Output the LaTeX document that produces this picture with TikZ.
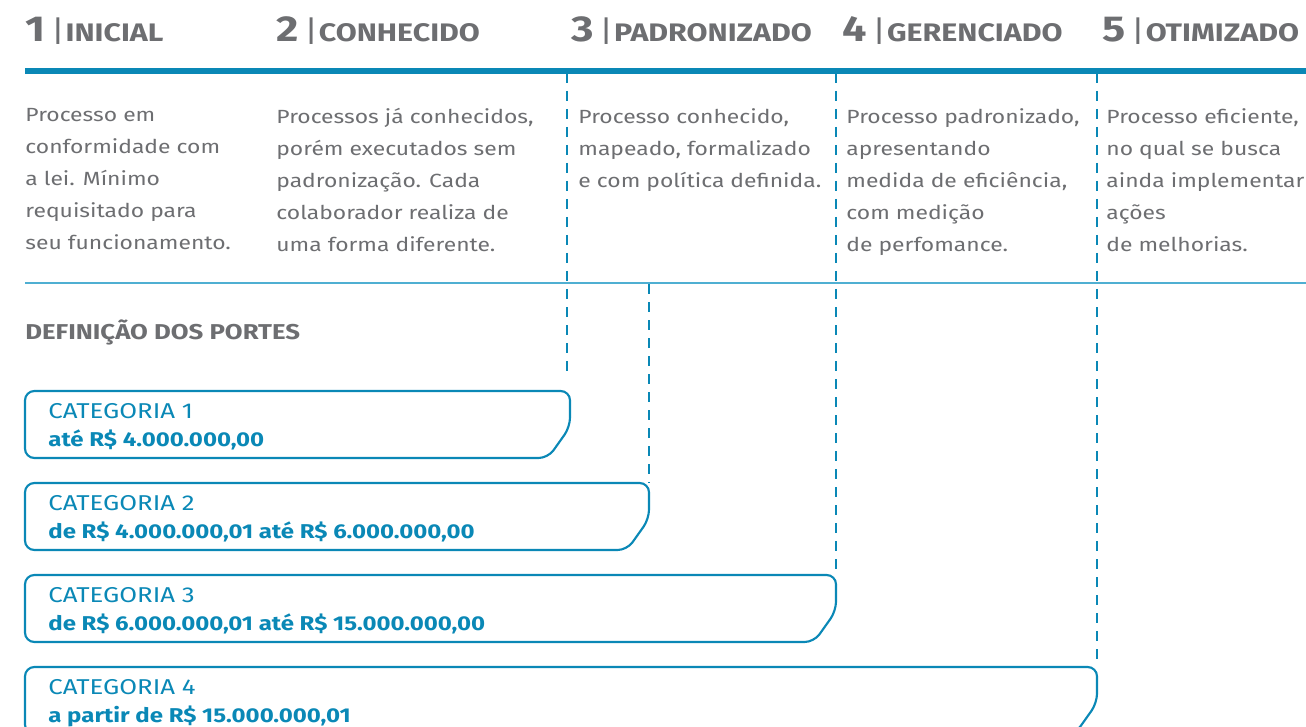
\documentclass[tikz,border=0pt]{standalone}
\usepackage{fontspec}
\setmainfont{Fira Sans}[FakeStretch=1.2]
\usetikzlibrary{positioning}
\definecolor{cinza}{HTML}{6D6E71}
\definecolor{azul}{HTML}{0A88B6}
\definecolor{azulclaro}{HTML}{4FAFD2}

\begin{document}
\begin{tikzpicture}[x=0.75pt,y=-0.75pt,semithick]
		\tikzstyle{titulo}=[anchor=base west,inner sep=0pt,text=cinza,font=\bfseries\fontsize{19}{22}\selectfont]
		\tikzstyle{desc}=[anchor=north west,inner sep=0pt,align=left,text=cinza,font=\fontsize{14.3}{24}\selectfont]
		\tikzstyle{cat}=[anchor=base west,inner sep=0pt,text=azul,font=\fontsize{16.1}{18}\selectfont]
		\tikzstyle{valor}=[cat,font=\bfseries\fontsize{15}{18}\selectfont]
		\tikzstyle{caixa}=[draw=azul,line width=1.6pt,rounded corners=7pt]
		\tikzstyle{guia}=[draw=azul,line width=1.9pt,dash pattern=on 7.5pt off 6pt]
		\newcommand{\num}[1]{{\fontsize{27}{28}\selectfont #1}\hspace{4pt}{\mdseries\fontsize{22}{24}\selectfont |}\hspace{0.5pt}}
		
		\clip (0,0) rectangle (1306,727);
		
		% niveis
		\node[titulo] (n1) at (25,42) {\num{1}INICIAL};
		\node[titulo] (n2) at (276,42) {\num{2}CONHECIDO};
		\node[titulo] (n3) at (571,42) {\num{3}PADRONIZADO};
		\node[titulo] (n4) at (842,42) {\num{4}GERENCIADO};
		\node[titulo] (n5) at (1102,42) {\num{5}OTIMIZADO};
		
		\coordinate (l0) at (25,71);
		\coordinate (l1) at (1306,71);
		\draw[azul,line width=3.8pt] (l0) -- (l1);
		
		\node[desc] (d1) at (25,108) {Processo em\\conformidade com\\a lei. Mínimo\\requisitado para\\seu funcionamento.};
		\node[desc] (d2) at (276,108) {Processos já conhecidos,\\porém executados sem\\padronização. Cada\\colaborador realiza de\\uma forma diferente.};
		\node[desc] (d3) at (578,108) {Processo conhecido,\\mapeado, formalizado\\e com política definida.};
		\node[desc] (d4) at (846,108) {Processo padronizado,\\apresentando\\medida de eficiência,\\com medição\\de perfomance.};
		\node[desc] (d5) at (1106,108) {Processo eficiente,\\no qual se busca\\ainda implementar\\ações\\de melhorias.};
		
		\coordinate (m0) at (25,283);
		\coordinate (m1) at (1306,283);
		\draw[azulclaro,line width=1.1pt] (m0) -- (m1);
		
		\node[titulo,font=\bfseries\fontsize{16.1}{18}\selectfont] (def) at (25,339) {DEFINIÇÃO DOS PORTES};
		
		% categorias
		\coordinate (b1) at (570,391);
		\draw[caixa] (25,425) -- (25,391) -- (b1) -- (570,427) -- (548,458) -- (25,458) -- cycle;
		\node[cat] (c1) at (48,418) {CATEGORIA 1};
		\node[valor] (v1) at (48,446) {até R\$ 4.000.000,00};
		
		\coordinate (b2) at (649,483);
		\draw[caixa] (25,517) -- (25,483) -- (b2) -- (649,519) -- (627,550) -- (25,550) -- cycle;
		\node[cat] (c2) at (48,510) {CATEGORIA 2};
		\node[valor] (v2) at (48,538) {de R\$ 4.000.000,01 até R\$ 6.000.000,00};
		
		\coordinate (b3) at (836,575);
		\draw[caixa] (25,609) -- (25,575) -- (b3) -- (836,611) -- (814,642) -- (25,642) -- cycle;
		\node[cat] (c3) at (48,602) {CATEGORIA 3};
		\node[valor] (v3) at (48,630) {de R\$ 6.000.000,01 até R\$ 15.000.000,00};
		
		\coordinate (b4) at (1097,667);
		\draw[caixa] (25,701) -- (25,667) -- (b4) -- (1097,703) -- (1075,734) -- (25,734) -- cycle;
		\node[cat] (c4) at (48,694) {CATEGORIA 4};
		\node[valor] (v4) at (48,722) {a partir de R\$ 15.000.000,01};
		
		% linhas tracejadas
		\coordinate (t3) at (567,73);
		\coordinate (e1) at (567,375);
		\coordinate (t2) at (649,284);
		\coordinate (t4) at (836,73);
		\coordinate (t5) at (1097,73);
		\draw[guia] (t3) -- (e1);
		\draw[guia] (t2) -- (b2);
		\draw[guia] (t4) -- (b3);
		\draw[guia] (t5) -- (b4);
\end{tikzpicture}
\end{document}
